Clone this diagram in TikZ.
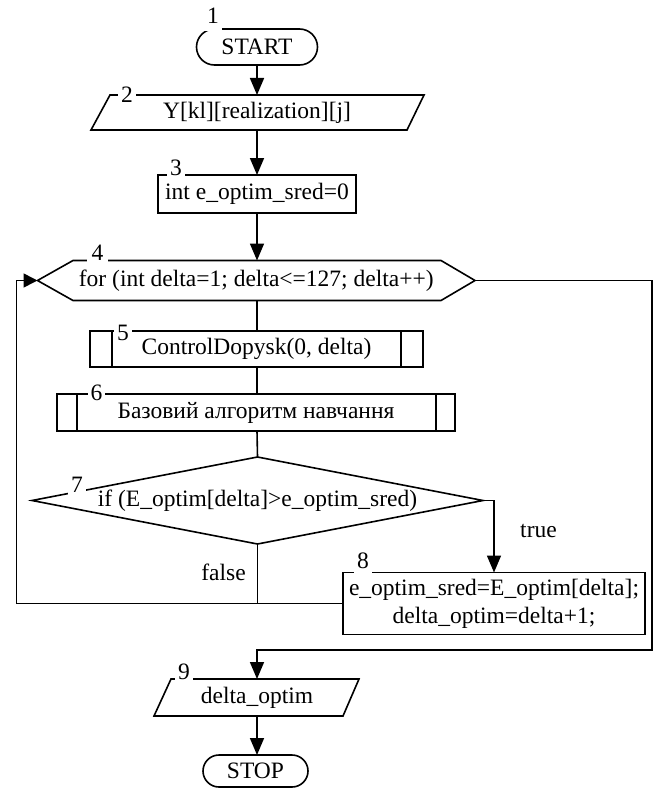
\documentclass[tikz,border=0pt]{standalone}
\usepackage{fontspec}
\setmainfont{Liberation Serif}
\usetikzlibrary{arrows.meta,shapes.misc,calc}
\begin{document}
\begin{tikzpicture}[x=1pt,y=-1pt,line width=1.6pt,
  txt/.style={font=\fontsize{23.5}{28}\selectfont},
  every node/.style={txt, inner sep=0pt, outer sep=0pt},
  arr/.style={-{Triangle[length=17pt,width=14pt]}},
  num/.style={fill=white, inner xsep=3pt, inner ysep=2pt},
]
\useasboundingbox (0,0) rectangle (653,789);
\coordinate (ax) at (257,0);

% 1 START
\node[draw, rounded rectangle, minimum width=121pt, minimum height=36pt] (start) at (257,47) {START};
\node[num, anchor=south, inner ysep=7pt] (n1) at (213,31) {1};

% 2 input
\node[minimum width=316pt, minimum height=35pt] (p2) at (257,112.5) {Y[kl][realization][j]};
\draw (110,95) -- (424,95) -- (407,130) -- (91,130) -- cycle;
\node[num] (n2) at (127,95) {2};

% 3
\node[draw, minimum width=198pt, minimum height=38pt] (b3) at (257,194) {int e\_optim\_sred=0};
\node[num, anchor=base] (n3) at (176,175) {3};

% 4 loop
\node[minimum width=437.5pt, minimum height=40pt] (for) at (256.25,280.5) {for (int delta=1; delta<=127; delta++)};
\draw (37.5,280.5) -- (73,260.5) -- (441,260.5) -- (475,280.5) -- (441,300.5) -- (73,300.5) -- cycle;
\node[num, anchor=base, inner xsep=5pt] (n4) at (97.5,260) {4};

% 5
\node[draw, minimum width=333pt, minimum height=36pt] (b5) at (256.5,348.7) {ControlDopysk(0, delta)};
\draw ($(b5.north west)+(22,0)$) -- ($(b5.south west)+(22,0)$)
      ($(b5.north east)+(-22,0)$) -- ($(b5.south east)+(-22,0)$);
\node[num] (n5) at (123,333) {5};

% 6
\node[draw, minimum width=398pt, minimum height=37pt] (b6) at (256,412.5) {Базовий алгоритм навчання};
\draw ($(b6.north west)+(20,0)$) -- ($(b6.south west)+(20,0)$)
      ($(b6.north east)+(-19,0)$) -- ($(b6.south east)+(-19,0)$);
\node[num] (n6) at (96.5,393) {6};

% 7 decision
\node[minimum width=451pt, minimum height=87pt] (dia) at (257.5,500.5) {if (E\_optim[delta]>e\_optim\_sred)};
\draw (dia.north) -- (dia.east) -- (dia.south) -- (dia.west) -- cycle;
\node[num, anchor=base, inner ysep=3pt] (n7) at (77,492) {7};

% 8
\node[draw, minimum width=302pt, minimum height=62pt, align=center] (b8) at (494,603.5) {e\_optim\_sred=E\_optim[delta];\\delta\_optim=delta+1;};
\node[num, anchor=base, text depth=4pt] (n8) at (363,568.5) {8};

\node[anchor=base] (tt) at (538.5,537) {true};
\node[anchor=base] (ff) at (223.5,580) {false};

% 9 output
\node[minimum width=205pt, minimum height=37pt] (p9) at (257,697.5) {delta\_optim};
\draw (171,679) -- (359,679) -- (343,716) -- (154,716) -- cycle;
\node[num, anchor=base] (n9) at (184,679) {9};

% STOP
\node[draw, rounded rectangle, minimum width=105pt, minimum height=32pt] (stop) at (255.5,771) {STOP};

% connectors
\draw[arr] (ax |- start.south) -- (ax |- p2.north);
\draw[arr] (ax |- p2.south) -- (ax |- b3.north);
\draw[arr] (ax |- b3.south) -- (ax |- for.north);
\draw (ax |- for.south) -- (ax |- b5.north);
\draw (ax |- b5.south) -- (ax |- b6.north);
\draw (ax |- b6.south) -- (dia.north);
\draw[arr] (dia.east) -| (b8.north);
\draw (dia.south) -- (dia.south |- b8.west);
\coordinate (lp) at (16.5,603.5);
\draw[-{Triangle[length=14pt,width=14pt]}] (b8.west) -- (lp) |- (for.west);
\coordinate (rp) at (652,280.5);
\coordinate (bj) at (257,650);
\draw[arr] (for.east) -- (rp) |- (bj) -- (p9.north);
\draw[arr] (ax |- p9.south) -- (ax |- stop.north);
\end{tikzpicture}
\end{document}
